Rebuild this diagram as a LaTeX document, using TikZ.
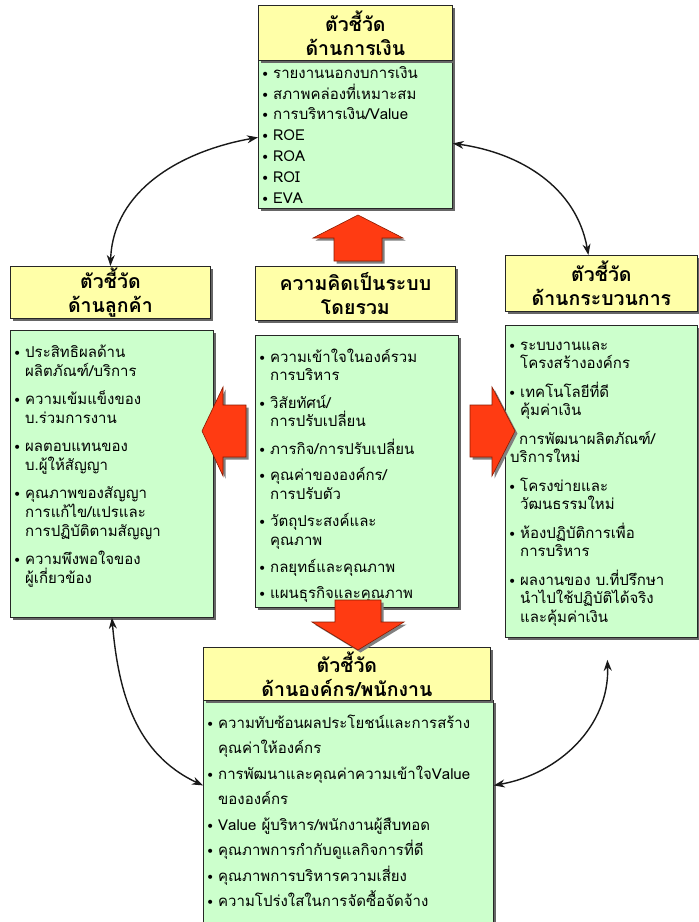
\documentclass[tikz,border=0pt]{standalone}
\usepackage{fontspec}
\setmainfont[Script=Thai]{Loma}
\newfontfamily\bulfont{DejaVu Sans}
\usetikzlibrary{shadows,arrows.meta}
\definecolor{hdrY}{HTML}{FFFFA8}
\definecolor{bodyG}{HTML}{CCFFCC}
\definecolor{arrR}{HTML}{FF3B12}
\definecolor{arrD}{HTML}{8A1A00}
\lineskiplimit=-100pt
\lineskip=0pt
\newcommand\bul{\makebox[12pt][l]{\bulfont\fontsize{14}{14}\selectfont\raisebox{-1pt}{•}}}
\newcommand\ind{\hspace*{12pt}}
\newcommand\fst{\rule{0pt}{18pt}}
\tikzset{
  shad/.style={drop shadow={shadow xshift=3pt,shadow yshift=-3pt,fill=black!60,opacity=1}},
  hdr/.style={draw=black!85,fill=hdrY,line width=0.8pt,anchor=north west,inner sep=0pt,shad},
  bod/.style={draw=black!85,fill=bodyG,line width=0.8pt,anchor=north west,inner sep=0pt,shad},
  htxt/.style={font=\fontsize{19.5}{24}\selectfont\bfseries,align=center,inner sep=0pt},
  btxt/.style={font=\fontsize{15}{19}\selectfont,align=left,anchor=north west,inner sep=0pt},
  link/.style={{Stealth[length=11pt,width=8pt]}-{Stealth[length=11pt,width=8pt]},line width=1.4pt,black!90},
  blockarrow/.style={fill=arrR,draw=arrD,line width=0.6pt,drop shadow={shadow xshift=2.5pt,shadow yshift=-2.5pt,fill=black!50,opacity=1}}
}
\begin{document}
\begin{tikzpicture}[x=1pt,y=-1pt]
\useasboundingbox[fill=white] (0,0) rectangle (699,922);
% top box
\node[bod,minimum width=194pt,minimum height=148pt] (tb) at (258,60) {};
\node[hdr,minimum width=194pt,minimum height=55pt] (th) at (258,5) {};
\node[htxt] (tht) at (th.center) {ตัวชี้วัด\\ด้านการเงิน};
\node[btxt,font=\fontsize{15}{20.8}\selectfont] (tt) at (261,60) {\fst\bul รายงานนอกงบการเงิน\\\bul สภาพคล่องที่เหมาะสม\\\bul การบริหารเงิน/Value\\\bul ROE\\\bul ROA\\\bul ROI\\\bul EVA};
% left box
\node[hdr,minimum width=200pt,minimum height=52pt] (lh) at (10,266) {};
\node[htxt] (lht) at (lh.center) {ตัวชี้วัด\\ด้านลูกค้า};
\node[bod,minimum width=203pt,minimum height=287pt] (lb) at (10,330) {};
\node[btxt] (lt) at (13,339) {\fst\bul ประสิทธิผลด้าน\\\ind ผลิตภัณฑ์/บริการ\\[9pt]\bul ความเข้มแข็งของ\\\ind บ.ร่วมการงาน\\[9pt]\bul ผลตอบแทนของ\\\ind บ.ผู้ให้สัญญา\\[9pt]\bul คุณภาพของสัญญา\\\ind การแก้ไข/แปรและ\\\ind การปฏิบัติตามสัญญา\\[9pt]\bul ความพึงพอใจของ\\\ind ผู้เกี่ยวข้อง};
% center box
\node[hdr,minimum width=200pt,minimum height=54pt] (ch) at (255,266) {};
\node[htxt] (cht) at (ch.center) {ความคิดเป็นระบบ\\โดยรวม};
\node[bod,minimum width=203pt,minimum height=272pt] (cb) at (255,335) {};
\node[btxt,font=\fontsize{15}{18.5}\selectfont] (ct) at (258,344) {\fst\bul ความเข้าใจในองค์รวม\\\ind การบริหาร\\[9pt]\bul วิสัยทัศน์/\\\ind การปรับเปลี่ยน\\[9pt]\bul ภารกิจ/การปรับเปลี่ยน\\[8pt]\bul คุณค่าขององค์กร/\\\ind การปรับตัว\\[9pt]\bul วัตถุประสงค์และ\\\ind คุณภาพ\\[9pt]\bul กลยุทธ์และคุณภาพ\\[7pt]\bul แผนธุรกิจและคุณภาพ};
% right box
\node[hdr,minimum width=192pt,minimum height=56pt] (rh) at (505,255) {};
\node[htxt] (rht) at (rh.center) {ตัวชี้วัด\\ด้านกระบวนการ};
\node[bod,minimum width=192pt,minimum height=312pt] (rb) at (505,325) {};
\node[btxt,font=\fontsize{15}{18.5}\selectfont] (rt) at (508,332) {\fst\bul ระบบงานและ\\\ind โครงสร้างองค์กร\\[10pt]\bul เทคโนโลยีที่ดี\\\ind คุ้มค่าเงิน\\[10pt]\hspace*{11pt}การพัฒนาผลิตภัณฑ์/\\\hspace*{2pt}บริการใหม่\\[10pt]\bul โครงข่ายและ\\\ind วัฒนธรรมใหม่\\[10pt]\bul ห้องปฏิบัติการเพื่อ\\\ind การบริหาร\\[10pt]\bul ผลงานของ บ.ที่ปรึกษา\\\ind นำไปใช้ปฏิบัติได้จริง\\\ind และคุ้มค่าเงิน};
% bottom box
\node[bod,minimum width=290pt,minimum height=240pt] (bb) at (203,700) {};
\node[hdr,minimum width=287pt,minimum height=53pt] (bh) at (203,647) {};
\node[htxt] (bht) at (bh.center) {ตัวชี้วัด\\ด้านองค์กร/พนักงาน};
\node[btxt,font=\fontsize{15}{25.5}\selectfont] (bt) at (206,710) {\fst\bul ความทับซ้อนผลประโยชน์และการสร้าง\\\ind คุณค่าให้องค์กร\\\bul การพัฒนาและคุณค่าความเข้าใจValue\\\ind ขององค์กร\\\bul Value ผู้บริหาร/พนักงานผู้สืบทอด\\\bul คุณภาพการกำกับดูแลกิจการที่ดี\\\bul คุณภาพการบริหารความเสี่ยง\\\bul ความโปร่งใสในการจัดซื้อจัดจ้าง};
% block arrows
\path[blockarrow] (334,261)--(334,238)--(313,238)--(358,215)--(403,238)--(382,238)--(382,261)--cycle;
\path[blockarrow] (246,405)--(223,405)--(223,387)--(202,431)--(223,476)--(223,457)--(246,457)--cycle;
\path[blockarrow] (470,405)--(492,405)--(492,387)--(515,431)--(492,476)--(492,457)--(470,457)--cycle;
\path[blockarrow] (335,600)--(381,600)--(381,622)--(404,622)--(358,650)--(312,622)--(335,622)--cycle;
% curved links
\draw[link] ([yshift=-3pt]tb.west) to[out=190,in=88] (lh.north);
\draw[link] ([yshift=-9pt]tb.east) to[out=-8,in=100] ([xshift=-13pt]rh.north);
\draw[link] (lb.south) to[out=-85,in=155] ([yshift=35pt]bb.west);
\draw[link] ([xshift=6pt,yshift=-22pt]rb.south) to[out=-88,in=10] ([yshift=35pt]bb.east);
\end{tikzpicture}
\end{document}
